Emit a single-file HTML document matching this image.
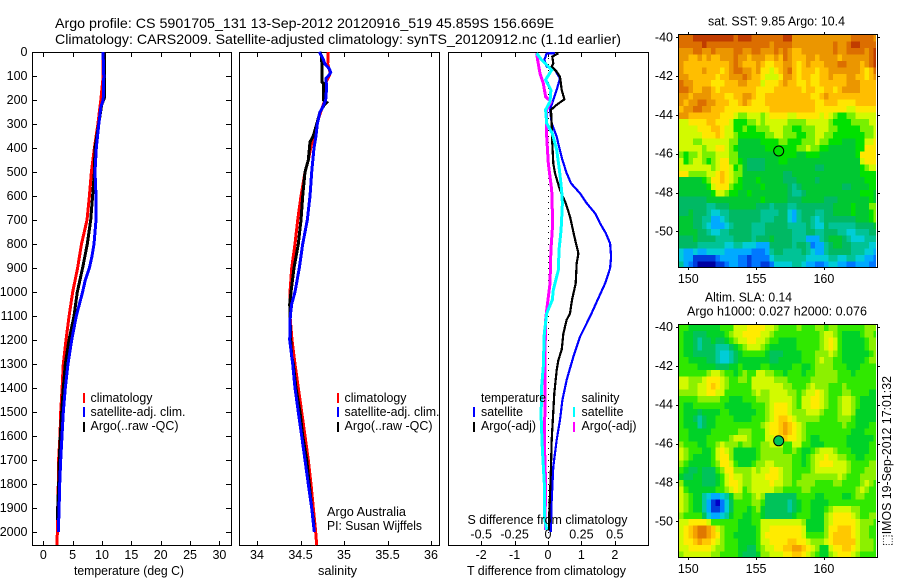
<!DOCTYPE html>
<html>
<head>
<meta charset="utf-8">
<title>Argo profile</title>
<style>
html,body{margin:0;padding:0;background:#fff;width:900px;height:580px;overflow:hidden}
svg{display:block}
text{font-family:"Liberation Sans","DejaVu Sans",sans-serif;font-size:12.5px;fill:#000}
</style>
</head>
<body>
<svg id="fig" xmlns="http://www.w3.org/2000/svg" width="900" height="580" viewBox="0 0 900 580">
<rect x="0" y="0" width="900" height="580" fill="#fff"/>
<text x="55" y="28" textLength="499" lengthAdjust="spacingAndGlyphs" style="font-size:14px">Argo profile: CS 5901705_131 13-Sep-2012 20120916_519 45.859S 156.669E</text>
<text x="55" y="44" textLength="566" lengthAdjust="spacingAndGlyphs" style="font-size:14px">Climatology: CARS2009. Satellite-adjusted climatology: synTS_20120912.nc (1.1d earlier)</text>

<g id="p1"></g>
<g id="p2"></g>
<g id="p3"></g>
<g id="m1"></g>
<g id="m2"></g>

<text x="74" y="575" textLength="110" lengthAdjust="spacingAndGlyphs">temperature (deg C)</text>
<text x="318" y="575" textLength="39" lengthAdjust="spacingAndGlyphs">salinity</text>
<text x="467" y="575" textLength="159" lengthAdjust="spacingAndGlyphs">T difference from climatology</text>
<text x="467.5" y="524" textLength="160" lengthAdjust="spacingAndGlyphs">S difference from climatology</text>

<g>
<rect x="83" y="393" width="2" height="10" fill="#f00"/>
<rect x="83" y="407" width="2" height="10" fill="#00f"/>
<rect x="83" y="422" width="2" height="10" fill="#000"/>
<text x="90.5" y="402" textLength="62" lengthAdjust="spacingAndGlyphs">climatology</text>
<text x="90.5" y="416" textLength="95" lengthAdjust="spacingAndGlyphs">satellite-adj. clim.</text>
<text x="90.5" y="430" textLength="88" lengthAdjust="spacingAndGlyphs">Argo(..raw -QC)</text>
</g>
<g>
<rect x="337" y="393" width="2" height="10" fill="#f00"/>
<rect x="337" y="407" width="2" height="10" fill="#00f"/>
<rect x="337" y="422" width="2" height="10" fill="#000"/>
<text x="344.5" y="402" textLength="62" lengthAdjust="spacingAndGlyphs">climatology</text>
<text x="344.5" y="416" textLength="95" lengthAdjust="spacingAndGlyphs">satellite-adj. clim.</text>
<text x="344.5" y="430" textLength="88" lengthAdjust="spacingAndGlyphs">Argo(..raw -QC)</text>
</g>
<g>
<text x="327" y="516" textLength="79" lengthAdjust="spacingAndGlyphs">Argo Australia</text>
<text x="327" y="530" textLength="95" lengthAdjust="spacingAndGlyphs">PI: Susan Wijffels</text>
</g>
<g>
<text x="481" y="402" textLength="65" lengthAdjust="spacingAndGlyphs">temperature</text>
<rect x="473" y="407" width="2" height="10" fill="#00f"/>
<rect x="473" y="422" width="2" height="10" fill="#000"/>
<text x="481" y="416" textLength="42" lengthAdjust="spacingAndGlyphs">satellite</text>
<text x="481" y="430" textLength="55" lengthAdjust="spacingAndGlyphs">Argo(-adj)</text>
<text x="581.5" y="402" textLength="38" lengthAdjust="spacingAndGlyphs">salinity</text>
<rect x="573" y="407" width="2" height="10" fill="#0ff"/>
<rect x="573" y="422" width="2" height="10" fill="#f0f"/>
<text x="581.5" y="416" textLength="42" lengthAdjust="spacingAndGlyphs">satellite</text>
<text x="581.5" y="430" textLength="55" lengthAdjust="spacingAndGlyphs">Argo(-adj)</text>
</g>

<text x="708" y="25.5" textLength="137" lengthAdjust="spacingAndGlyphs">sat. SST: 9.85 Argo: 10.4</text>
<text x="705" y="301.5" textLength="87" lengthAdjust="spacingAndGlyphs">Altim. SLA: 0.14</text>
<text x="687" y="315.5" textLength="180" lengthAdjust="spacingAndGlyphs">Argo h1000: 0.027 h2000: 0.076</text>
<text transform="translate(891,546) rotate(-90)" x="0" y="0" textLength="170" lengthAdjust="spacingAndGlyphs">⬚IMOS 19-Sep-2012 17:01:32</text>
</svg>

<script>
// ---------- profile data (depth in dbar) ----------
const depthTicks = [0,100,200,300,400,500,600,700,800,900,1000,1100,1200,1300,1400,1500,1600,1700,1800,1900,2000];

const tempTicks = [0,5,10,15,20,25,30];
const salTicks = [34,34.5,35,35.5,36];
const salTickLabels = ['34','34.5','35','35.5','36'];
const tDiffTicks = [-2,-1,0,1,2];
const sDiffTicks = [-0.5,-0.25,0,0.25,0.5];
const sDiffTickLabels = ['-0.5','-0.25','0','0.25','0.5'];

const climDepth = [0,100,200,300,400,500,600,700,800,900,1000,1100,1200,1300,1400,1500,1600,1700,1800,1900,2000,2055];
const climTemp = [10.2,10.2,9.8,9.3,8.7,8.2,7.85,7.45,6.5,5.85,5.0,4.4,3.87,3.4,3.2,2.96,2.85,2.6,2.56,2.45,2.39,2.35];

const satTempDepth = [0,100,200,230,300,400,500,600,700,750,800,850,900,950,1000,1100,1200,1300,1400,1500,1600,1700,1800,1900,2000];
const satTemp = [10.17,10.3,10.2,9.8,9.45,9.03,8.8,8.97,8.97,8.8,8.64,8.3,7.85,7.16,6.7,5.63,4.84,4.2,3.75,3.4,3.19,2.96,2.8,2.7,2.56];

const argoTempDepth = [0,190,220,300,400,500,600,700,800,900,1000,1100,1200,1300,1400,1500,1600,1700,1800,1900,1950];
const argoTemp = [10.45,10.45,9.95,9.43,8.8,8.7,8.4,8.07,7.5,6.7,5.8,5.23,4.38,3.75,3.4,3.13,2.9,2.73,2.62,2.45,2.4];

const climSalDepth = [0,50,85,100,125,200,250,300,350,400,450,500,600,700,800,900,1000,1100,1200,1300,1400,1500,1600,1700,1800,1900,2000,2055];
const climSal = [34.82,34.813,34.84,34.83,34.793,34.782,34.732,34.686,34.647,34.617,34.59,34.552,34.506,34.468,34.437,34.399,34.379,34.379,34.402,34.437,34.475,34.514,34.552,34.59,34.621,34.647,34.675,34.686];

const satSalDepth = [0,25,50,70,85,100,110,150,200,230,250,300,350,400,500,600,700,800,900,1000,1050,1100,1200,1300,1400,1500,1600,1700,1800,1900,2000];
const satSal = [34.716,34.755,34.782,34.831,34.847,34.82,34.793,34.8,34.79,34.755,34.724,34.693,34.678,34.655,34.629,34.609,34.578,34.525,34.486,34.437,34.399,34.383,34.376,34.41,34.437,34.475,34.514,34.552,34.59,34.629,34.659];

const argoSalDepth = [0,20,125,130,200,210,220,250,300,350,375,450,500,600,700,800,900,1000,1050,1100,1200,1270,1300,1400,1500,1600,1700,1800,1900,1970];
const argoSal = [34.724,34.744,34.747,34.762,34.762,34.8,34.773,34.724,34.686,34.647,34.609,34.59,34.552,34.525,34.506,34.475,34.425,34.391,34.376,34.379,34.387,34.399,34.417,34.448,34.494,34.525,34.571,34.601,34.629,34.655];

const tSatDepth = [5,6,33,61,75,110,158,200,241,297,353,394,450,505,547,589,630,672,714,755,797,853,901,964,1019,1102,1186,1269,1366,1450,1533,1616,1727,1866,2000];
const tSatDiff = [0.21,-0.04,-0.11,-0.04,0.21,0.36,0.26,0.16,0.06,0.11,0.26,0.33,0.43,0.56,0.69,0.96,1.16,1.41,1.56,1.73,1.86,1.89,1.86,1.71,1.53,1.26,0.96,0.76,0.56,0.43,0.36,0.26,0.16,0.11,0.08];

const tArgoDepth = [5,19,47,61,82,103,158,197,220,241,297,380,464,505,575,630,686,769,839,880,964,1033,1089,1116,1172,1241,1283,1325,1422,1519,1616,1727,1811,1922,1991];
const tArgoDiff = [0.31,0.13,0.16,0.11,0.26,0.36,0.41,0.49,0.26,0.09,0.11,0.13,0.16,0.21,0.36,0.53,0.66,0.79,0.91,0.86,0.83,0.72,0.66,0.56,0.46,0.41,0.31,0.26,0.19,0.15,0.11,0.09,0.07,0.04,0.03];

const sSatDepth = [5,33,75,116,158,207,241,297,339,408,491,575,630,741,825,908,992,1033,1089,1172,1311,1394,1519,1658,1797,1936,1991];
const sSatDiff = [-0.085,-0.048,0.028,-0.018,0.022,0.015,-0.018,-0.01,0.032,0.065,0.085,0.102,0.108,0.098,0.082,0.078,0.04,0.032,-0.01,-0.028,-0.035,-0.048,-0.052,-0.042,-0.028,-0.028,-0.01];

const sArgoDepth = [5,33,89,131,186,207,241,353,464,575,714,825,964,1075,1116,1241,1450,1616,1797,1936,1991];
const sArgoDiff = [-0.085,-0.078,-0.06,-0.035,-0.018,0.022,-0.01,-0.01,0.002,0.028,0.035,0.022,0.015,-0.01,-0.018,-0.022,-0.022,-0.028,-0.018,-0.022,-0.018];

// ---------- map data (colour-level per 1/3 degree cell, north to south) ----------
const mapLonTicks = [150,155,160];
const mapLatTicks = [-40,-42,-44,-46,-48,-50];
const floatLon = 156.669;
const floatLat = -45.859;
const floatSstLevel = 8;
const floatSlaLevel = 6;

const sstColors = ['#0000a0','#003cdc','#0078ff','#00aaff','#00cdd7','#00c396','#00b964','#00c832','#00e100','#78f000','#d2fa00','#ffe600','#ffbe00','#eb9600','#dc6e00','#c03c00'];
const slaColors = ['#0000c8','#003cdc','#0078ff','#00aaff','#00cdd7','#00c8a0','#00c35a','#00d228','#30e800','#8cf000','#d2fa00','#ffeb00','#ffc800','#f5a000','#e07800','#c03c00'];

const sstRows = [
[14,14,14,15,15,15,15,15,15,15,15, 15,14,15,15,15,14,14,14,14,14,14, 14,15,15,13,13,13,13,13,13,13,13, 13,13,13,13,13,14,14,14,14,14,13],
[14,14,14,14,14,15,14,14,14,14,14, 14,14,14,14,14,14,14,14,14,13,14, 14,14,14,13,13,13,13,13,13,13,13, 13,14,13,13,14,15,15,14,14,14,14],
[13,13,13,14,14,13,13,14,13,13,13, 13,14,14,13,13,14,14,13,13,13,14, 13,14,13,12,12,13,13,13,13,13,13, 13,14,13,13,14,14,14,14,13,14,15],
[13,13,12,12,13,12,13,12,12,13,13, 13,14,13,13,12,13,13,13,12,12,13, 12,14,13,12,12,12,13,13,12,13,13, 13,13,12,13,13,13,13,13,13,14,15],
[13,12,12,12,12,12,12,12,12,12,12, 13,14,13,12,12,12,13,12,11,11,12, 12,13,13,12,11,12,13,12,12,12,13, 13,13,14,14,13,13,13,12,13,14,15],
[13,12,12,12,12,13,12,12,12,11,12, 13,14,14,13,13,12,13,11,11,10,11, 12,13,14,12,11,12,12,12,11,12,12, 13,13,13,13,13,13,13,12,11,12,14],
[13,13,12,12,12,12,12,12,11,12,12, 13,13,13,14,13,12,12,11,10,10,10, 11,13,13,12,11,12,12,11,11,12,12, 13,12,12,12,13,13,12,12,11,12,13],
[14,13,13,12,12,12,12,11,11,11,12, 12,12,13,13,12,12,12,10,11,11,11, 12,13,12,12,11,11,12,11,11,12,12, 12,12,12,12,13,13,13,12,12,12,12],
[14,14,13,12,12,13,13,12,11,12,12, 12,12,12,12,12,12,11,11,11,11,12, 12,12,12,12,12,11,12,12,11,11,12, 12,11,12,13,13,13,13,12,12,12,12],
[13,13,12,13,13,13,13,12,12,12,11, 11,12,12,13,13,12,11,11,12,12,12, 12,12,12,12,12,12,12,11,11,12,13, 12,12,12,12,12,12,12,12,12,12,12],
[13,12,13,13,14,14,13,13,12,12,12, 11,11,12,13,12,11,11,11,12,12,12, 12,12,12,12,12,12,12,12,11,11,12, 12,12,11,11,11,11,12,12,12,12,12],
[12,13,13,14,14,13,13,12,12,12,11, 11,11,11,11,11,11,11,11,11,12,12, 12,12,12,12,12,12,12,12,11,11,11, 11,11,11,11,10,10,11,11,11,11,11],
[13,13,12,12,12,12,12,12,12,11,11, 11,10,9,9,10,10,10,9,10,11,11, 11,11,10,10,11,11,11,11,11,10,11, 10,9,8,8,9,9,10,10,10,10,10],
[10,10,11,11,11,11,12,12,11,11,11, 10,8,8,8,9,9,10,9,10,10,10, 10,10,9,9,9,9,10,10,10,10,10, 9,8,8,8,8,9,9,9,9,10,10],
[10,10,10,10,11,11,11,12,12,11,10, 10,8,8,9,8,8,9,9,9,10,10, 10,9,9,8,8,9,9,9,10,10,10, 9,9,8,8,8,8,8,9,9,9,10],
[10,10,10,10,10,11,11,11,12,11,10, 10,9,8,8,8,8,8,8,9,9,10, 10,9,9,9,8,8,9,9,10,10,9, 9,8,8,8,8,8,8,8,9,9,10],
[10,10,10,9,9,10,10,10,10,10,10, 9,9,7,7,7,7,7,8,8,8,8, 9,9,8,8,8,9,9,9,10,9,9, 8,8,8,7,7,7,8,8,10,10,11],
[10,10,10,10,10,9,10,10,11,11,10, 9,8,7,7,7,7,7,7,8,8,8, 8,8,8,8,9,9,10,9,9,8,8, 7,7,7,7,7,7,8,8,11,11,11],
[9,8,9,9,10,9,9,9,10,10,10, 9,9,7,7,7,7,7,7,7,7,7, 8,8,8,8,7,7,8,8,8,7,7, 7,7,7,7,7,7,8,11,11,11,11],
[10,8,9,10,10,9,8,9,10,11,11, 9,9,8,7,6,6,6,6,7,7,7, 8,8,7,7,7,7,7,7,7,7,7, 7,7,7,7,7,7,7,10,11,11,11],
[10,10,10,10,10,10,10,9,10,11,11, 10,8,9,7,6,6,6,6,7,7,7, 7,7,7,7,7,7,7,7,6,6,7, 7,7,7,7,7,7,7,8,9,10,10],
[11,11,9,9,9,9,10,10,11,12,11, 10,9,9,7,7,7,7,7,7,7,7, 7,6,6,7,7,7,7,7,7,7,7, 7,7,7,7,7,7,7,8,8,8,8],
[7,7,7,7,7,8,9,11,11,12,11, 10,9,8,7,7,7,8,7,7,7,7, 7,6,6,6,7,7,7,7,6,7,7, 7,7,7,7,7,7,7,7,8,8,8],
[7,7,7,7,7,7,8,10,11,11,11, 9,8,8,7,7,7,7,8,7,7,7, 7,7,6,5,6,7,7,7,7,7,7, 7,7,7,6,6,7,7,7,7,8,8],
[7,7,7,7,7,7,7,8,10,10,9, 8,8,7,7,8,7,7,7,7,7,7, 7,7,6,5,5,6,7,7,7,7,7, 7,7,7,7,7,7,7,8,8,8,7],
[6,6,6,6,6,6,7,7,7,7,7, 7,7,7,7,7,7,7,8,7,7,7, 7,7,6,6,6,7,7,7,7,7,6, 6,6,7,7,7,7,7,7,7,8,7],
[6,6,6,6,6,6,5,5,6,6,6, 7,7,7,7,7,7,6,6,6,5,6, 6,6,5,5,6,6,6,6,6,6,6, 6,7,7,7,7,8,7,7,7,9,9],
[6,6,7,6,6,6,5,4,4,5,5, 6,6,6,6,6,6,6,5,5,5,5, 6,6,4,3,5,6,6,6,5,5,6, 6,7,7,7,7,8,7,7,7,8,9],
[7,7,7,6,6,5,5,3,3,4,5, 6,6,6,6,6,6,6,5,5,5,6, 6,6,4,3,5,6,6,5,4,5,6, 6,6,6,6,6,6,7,7,7,8,9],
[7,7,7,6,6,5,4,3,3,3,4, 5,6,6,6,6,5,5,5,6,6,6, 6,6,5,5,5,5,6,5,4,4,6, 5,5,5,5,5,5,6,6,6,6,7],
[7,7,7,7,6,6,5,4,4,5,5, 6,6,6,6,6,5,5,5,6,6,6, 6,6,6,5,5,5,6,6,5,5,6, 6,6,5,5,4,4,5,5,5,6,6],
[6,6,6,7,6,6,6,6,5,5,5, 5,6,6,6,6,5,6,6,6,7,6, 6,6,6,5,5,5,3,3,3,5,6, 7,7,7,6,5,4,4,4,5,5,5],
[6,6,6,6,5,5,5,5,5,5,4, 4,5,5,4,4,4,3,3,3,6,6, 6,6,6,5,6,6,5,2,3,3,5, 6,7,7,6,6,5,5,5,5,4,4],
[4,3,3,4,3,3,4,4,4,4,3, 3,3,3,3,3,2,2,2,3,5,6, 6,5,5,5,5,6,5,4,3,3,5, 6,6,6,6,6,5,5,5,4,4,3],
[4,3,3,1,1,1,1,1,2,3,3, 3,3,2,2,1,2,2,2,2,4,5, 5,5,5,5,5,5,4,4,4,4,4, 5,5,4,4,5,5,4,4,3,3,2],
[5,3,2,1,0,0,0,0,1,1,2, 3,3,2,2,1,2,2,1,1,2,4, 4,4,4,5,5,4,3,3,2,2,3, 4,4,3,3,2,2,3,3,3,2,2]
];

const slaRows = [
[8,8,7,7,7,7,7,7,7,8,8, 8,10,10,10,11,11,11,11,10,10,9, 8,8,8,8,9,8,8,8,9,9,8, 9,9,8,8,8,8,8,8,9,9,9],
[8,7,7,6,6,6,7,7,7,7,8, 9,10,10,11,11,11,11,10,10,9,8, 8,8,8,8,8,8,8,8,8,9,10, 10,9,8,7,7,7,7,8,9,9,8],
[8,7,7,6,5,6,6,7,6,6,7, 8,9,10,10,11,11,10,10,9,8,8, 7,7,7,7,8,8,8,8,8,9,10, 11,10,8,7,7,7,7,7,8,9,9],
[8,7,7,6,5,6,6,6,5,5,5, 6,7,8,9,10,10,10,9,8,7,7, 7,7,7,7,8,8,8,8,8,9,10, 11,10,8,7,7,7,7,7,8,9,9],
[8,7,7,6,6,6,6,6,5,4,4, 5,6,7,8,8,8,8,8,7,6,6, 6,7,7,7,7,8,8,8,9,9,9, 10,9,8,7,7,7,7,7,7,8,9],
[8,8,7,7,7,7,6,6,5,4,4, 5,6,7,7,7,7,7,7,7,6,6, 7,7,7,7,7,8,8,8,9,10,9, 9,8,8,7,7,7,7,7,8,9,9],
[8,8,8,8,7,7,7,7,6,6,6, 7,7,8,7,7,7,7,8,8,7,7, 7,7,7,8,8,7,7,8,9,9,9, 9,8,8,8,7,7,7,8,8,8,8],
[8,8,8,8,8,8,9,10,10,9,8, 8,7,8,9,8,8,10,10,9,9,8, 8,7,8,8,8,7,8,8,9,9,9, 9,9,8,8,8,7,8,8,8,8,8],
[10,10,9,9,9,10,11,11,11,10,9, 8,8,9,9,8,10,10,10,10,10,9, 9,9,8,8,8,8,8,9,9,9,9, 9,9,8,8,8,8,8,8,8,8,8],
[10,10,9,9,10,10,11,12,11,10,9, 8,8,8,8,8,10,10,10,10,10,10, 10,9,9,8,8,8,9,10,9,9,9, 8,8,8,9,8,8,8,8,8,8,8],
[9,9,9,9,10,10,11,11,10,10,8, 8,8,8,8,8,9,10,9,9,10,10, 10,10,9,9,8,9,10,10,11,10,9, 8,8,8,9,9,8,8,8,8,7,7],
[8,8,8,8,9,9,9,9,9,8,8, 7,7,7,8,8,8,9,9,9,10,10, 10,10,10,9,8,10,10,11,11,10,9, 8,8,9,10,10,9,8,7,7,7,7],
[8,7,7,8,8,8,8,8,8,8,7, 7,7,7,7,7,8,8,8,9,10,11, 11,11,10,9,8,10,10,11,11,10,9, 8,8,9,10,10,9,8,7,7,7,7],
[8,7,7,7,6,7,7,7,7,8,8, 7,7,7,7,7,7,8,8,9,10,11, 11,11,10,9,9,9,10,10,10,9,8, 8,8,9,10,10,9,7,7,7,7,7],
[8,7,7,6,5,6,7,7,8,8,8, 8,7,7,7,7,8,8,8,9,10,11, 12,12,11,10,9,9,9,9,9,8,8, 8,8,9,9,9,8,7,7,7,7,7],
[8,7,7,7,5,6,7,7,8,8,8, 8,8,8,8,8,8,8,9,10,11,11, 12,13,12,11,10,9,8,8,8,8,8, 8,8,8,9,8,8,7,7,7,8,8],
[8,8,7,7,7,7,7,8,8,8,8, 8,8,9,9,9,8,8,8,10,11,11, 12,13,12,11,10,9,8,8,8,8,8, 8,8,8,8,8,7,7,7,8,8,8],
[8,8,7,7,7,7,8,8,8,8,8, 9,10,10,10,9,8,8,8,10,10,11, 11,12,11,11,10,9,8,7,7,8,8, 8,8,8,8,7,7,7,7,7,7,8],
[9,8,8,8,7,7,8,8,9,10,9, 9,9,8,9,9,8,8,9,9,10,10, 10,8,8,10,10,8,8,7,7,7,8, 8,8,8,8,7,7,7,7,7,8,8],
[10,9,8,8,8,7,7,8,10,11,10, 9,7,7,7,7,7,8,9,9,9,9, 9,8,8,9,8,7,7,8,9,10,10, 10,9,8,8,8,7,7,7,7,8,8],
[10,9,8,7,7,7,7,8,10,11,11, 9,7,7,7,7,7,8,9,9,9,9, 9,9,9,8,8,7,8,9,10,10,11, 10,10,9,9,8,8,7,7,8,8,8],
[9,8,7,7,7,7,7,8,9,11,11, 10,8,7,7,7,8,9,9,10,10,9, 9,9,9,8,8,7,8,9,10,11,11, 11,10,10,10,9,8,8,8,8,9,9],
[8,7,6,6,7,6,6,6,8,9,11, 11,9,9,9,9,10,9,10,10,11,11, 10,9,9,8,8,8,8,9,10,10,10, 10,10,10,10,9,8,8,8,9,9,9],
[7,6,6,7,7,6,6,6,7,8,10, 11,10,10,9,9,10,10,10,11,11,11, 10,9,9,8,8,9,9,9,9,9,9, 9,9,10,9,8,8,8,9,9,9,9],
[9,7,7,7,7,6,6,6,7,8,10, 11,11,10,9,9,10,10,10,10,11,10, 10,9,9,8,9,9,9,9,8,8,8, 8,9,9,8,8,8,8,9,10,9,8],
[10,8,7,7,7,7,7,7,8,8,9, 10,11,10,8,9,10,10,10,10,10,9, 9,8,8,8,8,9,9,8,8,8,8, 8,8,8,8,8,8,9,10,9,8,8],
[10,9,8,7,7,5,4,3,3,4,5, 7,9,9,8,8,9,10,9,6,6,6, 6,6,6,6,8,8,8,8,7,7,8, 8,8,8,7,7,8,9,9,8,8,8],
[10,9,8,7,7,5,3,1,0,2,4, 6,8,8,8,8,9,9,8,6,6,6, 6,6,5,6,7,8,8,7,7,7,7, 8,8,8,8,8,8,8,8,8,8,8],
[10,9,8,7,7,5,3,1,1,2,4, 6,8,8,8,7,8,9,7,6,6,6, 6,6,5,6,7,8,8,7,7,7,8, 9,10,10,10,10,9,9,8,8,8,8],
[9,8,8,8,8,6,4,3,3,4,5, 7,8,8,7,7,8,8,7,6,6,6, 6,6,6,7,8,8,8,7,7,7,9, 10,11,11,11,11,10,9,8,8,9,9],
[10,10,11,11,11,11,10,8,8,8,8, 8,8,7,7,7,8,8,10,10,10,10, 10,10,10,10,10,9,7,7,7,7,9, 10,11,11,11,11,11,10,9,9,9,8],
[10,11,12,13,14,14,13,12,10,9,8, 8,8,7,7,7,7,8,10,10,11,11, 11,11,11,11,11,10,7,7,7,7,9, 11,11,12,12,12,11,10,9,9,8,8],
[10,11,12,13,14,14,13,12,11,9,8, 8,7,7,7,7,7,8,10,11,11,11, 11,11,11,11,11,10,8,8,8,8,9, 11,12,12,12,12,11,10,9,9,8,8],
[10,11,11,12,13,12,12,11,10,9,8, 8,8,7,7,7,7,8,10,10,11,11, 11,11,12,12,11,11,10,9,9,9,10, 11,12,12,12,12,12,10,9,9,9,8],
[10,10,11,11,11,11,11,10,9,9,8, 8,8,7,7,6,6,8,9,10,10,11, 11,12,12,13,13,12,11,10,9,7,7, 10,11,11,12,12,11,10,9,9,9,8],
[9,10,10,10,10,10,10,9,9,8,8, 8,8,7,6,6,6,7,9,9,10,10, 10,11,11,12,12,11,10,9,8,7,7, 9,10,11,11,11,10,9,8,8,8,8]
];

// ---------- drawing helpers ----------
const NS = 'http://www.w3.org/2000/svg';
function make(parent, tag, name, attrs){
  const el = document.createElementNS(NS, tag);
  for (const k in attrs) el.setAttribute(k, attrs[k]);
  
  
  parent.appendChild(el);
  return el;
}
function label(parent, name, x, y, str, anchor){
  const el = make(parent, 'text', name, {x:x, y:y, 'text-anchor':anchor || 'middle'});
  el.textContent = str;
  return el;
}
const crisp = {'shape-rendering':'crispEdges'};

// axis functions
const yDepth = d => 52 + d * 0.24;
const xTemp = t => 43.3 + t * 5.87;
const xSal = s => 257 + (s - 34) * 87;
const xTDiff = d => 548 + d * 33.4;
const xSDiff = s => 548 + s * 133.6;

function frame(g, name, x0, w){
  make(g, 'rect', name, Object.assign({x:x0+0.5, y:52.5, width:w, height:493, fill:'none', stroke:'#000', 'stroke-width':1}, crisp));
}
function vline(g, name, x, y1, y2){
  make(g, 'line', name, Object.assign({x1:Math.round(x)+0.5, x2:Math.round(x)+0.5, y1:y1, y2:y2, stroke:'#000', 'stroke-width':1}, crisp));
}
function hline(g, name, y, x1, x2){
  make(g, 'line', name, Object.assign({y1:Math.round(y)+0.5, y2:Math.round(y)+0.5, x1:x1, x2:x2, stroke:'#000', 'stroke-width':1}, crisp));
}
function profile(g, name, xf, depths, values, color, width){
  const pts = depths.map((d,i) => xf(values[i]).toFixed(1) + ',' + yDepth(d).toFixed(1)).join(' ');
  make(g, 'polyline', name, Object.assign({points:pts, fill:'none', stroke:color, 'stroke-width':width}, crisp));
}

// ---------- temperature panel ----------
const p1 = document.getElementById('p1');
frame(p1, 'temperature-plot-frame', 32, 199);
depthTicks.forEach(d => {
  hline(p1, 'depth-tick', yDepth(d), 33, 37);
  hline(p1, 'depth-tick', yDepth(d), 226, 231);
  label(p1, 'depth-tick-label', 27.5, yDepth(d) + 4, String(d), 'end');
});
tempTicks.forEach(t => {
  vline(p1, 'temperature-tick', xTemp(t), 53, 57);
  vline(p1, 'temperature-tick', xTemp(t), 541, 545);
  label(p1, 'temperature-tick-label', xTemp(t), 559, String(t));
});
profile(p1, 'temperature-climatology-line', xTemp, climDepth, climTemp, '#f00', 3);
profile(p1, 'temperature-argo-line', xTemp, argoTempDepth, argoTemp, '#000', 3);
profile(p1, 'temperature-satellite-line', xTemp, satTempDepth, satTemp, '#00f', 3);

// ---------- salinity panel ----------
const p2 = document.getElementById('p2');
frame(p2, 'salinity-plot-frame', 239, 200);
salTicks.forEach((s,i) => {
  vline(p2, 'salinity-tick', xSal(s), 53, 57);
  vline(p2, 'salinity-tick', xSal(s), 541, 545);
  label(p2, 'salinity-tick-label', xSal(s), 559, salTickLabels[i]);
});
profile(p2, 'salinity-climatology-line', xSal, climSalDepth, climSal, '#f00', 3);
profile(p2, 'salinity-argo-line', xSal, argoSalDepth, argoSal, '#000', 3);
profile(p2, 'salinity-satellite-line', xSal, satSalDepth, satSal, '#00f', 3);

// ---------- difference panel ----------
const p3 = document.getElementById('p3');
frame(p3, 'difference-plot-frame', 448, 200);
tDiffTicks.forEach(t => {
  vline(p3, 't-difference-tick', xTDiff(t), 53, 57);
  vline(p3, 't-difference-tick', xTDiff(t), 541, 545);
  label(p3, 't-difference-tick-label', xTDiff(t), 559, String(t));
});
sDiffTicks.forEach((s,i) => {
  label(p3, 's-difference-tick-label', xSDiff(s), 538.5, sDiffTickLabels[i]);
});
make(p3, 'line', 'zero-difference-line', {x1:548.5, x2:548.5, y1:yDepth(0), y2:yDepth(2055), stroke:'#000', 'stroke-width':1, 'stroke-dasharray':'1 5', 'shape-rendering':'crispEdges'});
profile(p3, 't-diff-satellite-line', xTDiff, tSatDepth, tSatDiff, '#00f', 2.2);
profile(p3, 't-diff-argo-line', xTDiff, tArgoDepth, tArgoDiff, '#000', 2.2);
profile(p3, 's-diff-argo-line', xSDiff, sArgoDepth, sArgoDiff, '#f0f', 3);
profile(p3, 's-diff-satellite-line', xSDiff, sSatDepth, sSatDiff, '#0ff', 3);

// ---------- maps ----------
const xLon = lon => 688.3 + (lon - 150) * 13.56;
function drawMap(g, prefix, rows, colors, floatLevel, yLat, left, top, right, bottom, labelY){
  rows.forEach((row, r) => {
    row.forEach((level, c) => {
      const lon = 149.33 + c / 3;
      const lat = -39.88 - r / 3;
      const x1 = xLon(lon), x2 = Math.min(xLon(lon + 1/3) + 0.4, right - 1);
      const y1 = yLat(lat), y2 = Math.min(yLat(lat - 1/3) + 0.4, bottom);
      make(g, 'rect', prefix + '-cell', {x:x1.toFixed(2), y:y1.toFixed(2), width:(x2-x1).toFixed(2), height:(y2-y1).toFixed(2), fill:colors[level], 'shape-rendering':'crispEdges'});
    });
  });
  make(g, 'rect', prefix + '-frame', Object.assign({x:left-0.5, y:top-0.5, width:right-left+1, height:bottom-top+1, fill:'none', stroke:'#000', 'stroke-width':1}, crisp));
  mapLonTicks.forEach(lon => {
    vline(g, prefix + '-lon-tick', xLon(lon), top-3, top);
    vline(g, prefix + '-lon-tick', xLon(lon), bottom+1, bottom+3);
    label(g, prefix + '-lon-tick-label', xLon(lon), labelY, String(lon));
  });
  mapLatTicks.forEach(lat => {
    hline(g, prefix + '-lat-tick', yLat(lat), left-3, left);
    hline(g, prefix + '-lat-tick', yLat(lat), right+1, right+3);
    label(g, prefix + '-lat-tick-label', 673, yLat(lat) + 4, String(lat), 'end');
  });
  make(g, 'circle', prefix + '-float-marker', {cx:xLon(floatLon).toFixed(1), cy:yLat(floatLat).toFixed(1), r:5, fill:colors[floatLevel], stroke:'#000', 'stroke-width':1});
}
const ySst = lat => 37.3 + (-40 - lat) * 19.4;
const ySla = lat => 327 + (-40 - lat) * 19.43;
drawMap(document.getElementById('m1'), 'sst', sstRows, sstColors, floatSstLevel, ySst, 679, 35, 877, 267, 283);
drawMap(document.getElementById('m2'), 'sla', slaRows, slaColors, floatSlaLevel, ySla, 679, 325, 877, 557, 573);
</script>
</body>
</html>
